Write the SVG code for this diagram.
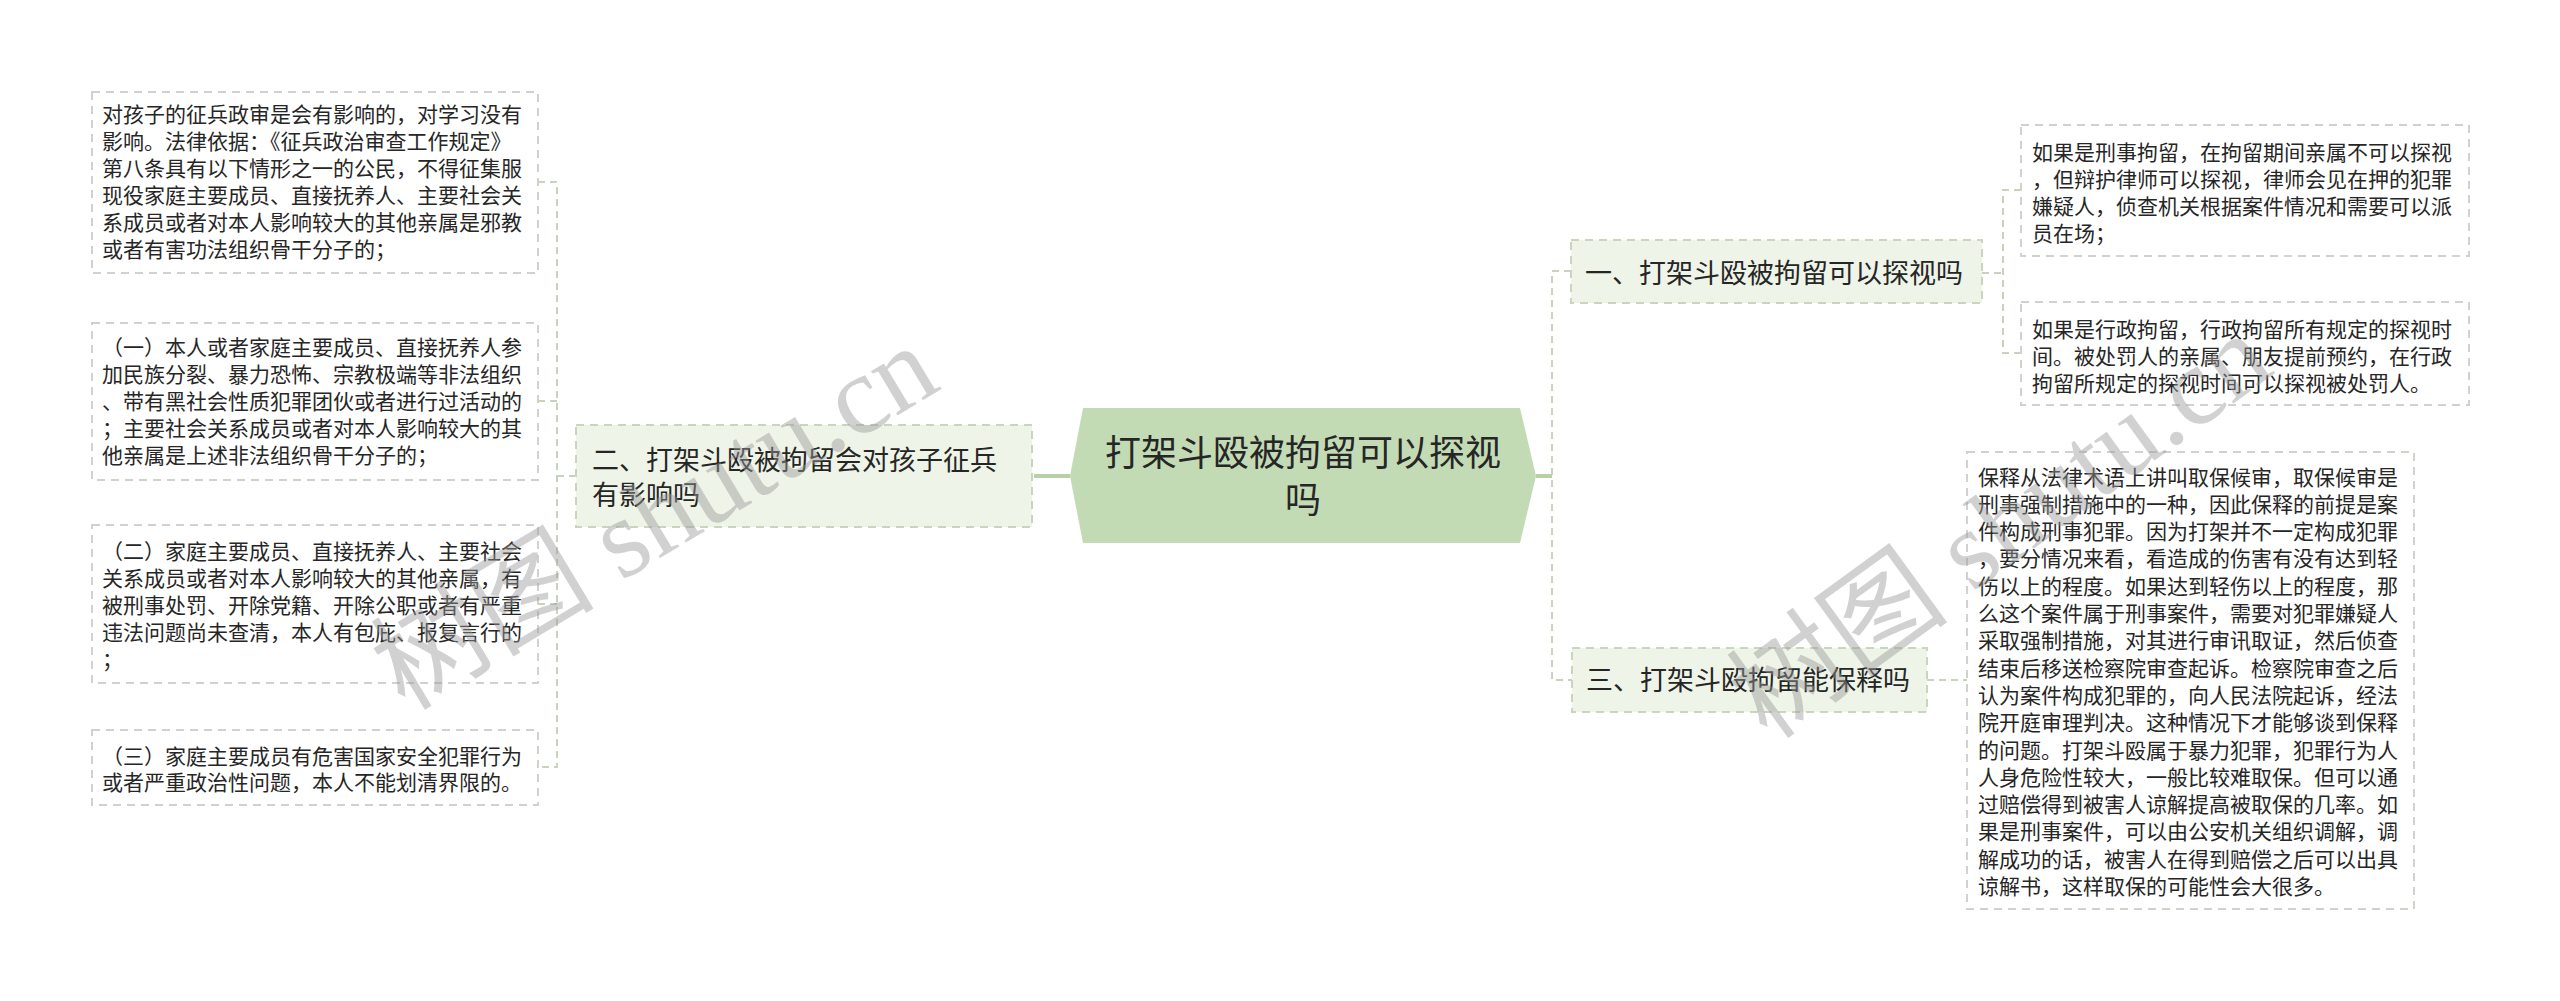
<svg xmlns="http://www.w3.org/2000/svg" width="2560" height="1001" viewBox="0 0 2560 1001">
<style>
.bg{fill:#ffffff}
.leaf rect{fill:#ffffff;stroke:#cfd3cc;stroke-width:2;stroke-dasharray:8 6}
.branch rect{fill:#eef4e7;stroke:#c9d6be;stroke-width:2;stroke-dasharray:8 6}
.leaf text{font-family:"Noto Sans CJK SC","Noto Sans",sans-serif;font-size:21px;fill:#262626}
.branch text{font-family:"Noto Sans CJK SC","Noto Sans",sans-serif;font-size:27px;fill:#262626}
.center text{font-family:"Noto Sans CJK SC","Noto Sans",sans-serif;font-size:36px;fill:#262626;text-anchor:middle}
.dash{fill:none;stroke:#c8d3be;stroke-width:2;stroke-dasharray:7 5}
.solid{fill:none;stroke:#b7d0a7;stroke-width:4}
.wm{font-family:"Liberation Serif","Noto Sans CJK SC",serif;font-size:112px;fill:#9a9a9a;fill-opacity:0.45}
</style>
<rect class="bg" x="0" y="0" width="2560" height="1001"/>

<g id="connectors">
  <path class="solid" d="M1034 476 H1070"/>
  <path class="solid" d="M1536 476 H1552"/>
  <path class="dash" d="M538 182 H557 V767 H538"/>
  <path class="dash" d="M538 401 H557"/>
  <path class="dash" d="M538 604 H557"/>
  <path class="dash" d="M557 476 H576"/>
  <path class="dash" d="M1571 271 H1552 V680 H1572"/>
  <path class="dash" d="M1982 273 H2003"/>
  <path class="dash" d="M2021 190 H2003 V353 H2021"/>
  <path class="dash" d="M1927 680 H1967"/>
</g>

<g id="center" class="center">
  <polygon points="1070,476 1083,408 1520,408 1536,476 1520,543 1083,543" fill="#c3dbb5"/>
  <text x="1303" y="466">打架斗殴被拘留可以探视</text>
  <text x="1303" y="513">吗</text>
</g>

<g id="branch-left" class="branch">
  <rect x="576" y="425" width="456" height="102"/>
  <text x="592" y="470">二、打架斗殴被拘留会对孩子征兵</text>
  <text x="592" y="505">有影响吗</text>
</g>

<g id="branch-1" class="branch">
  <rect x="1571" y="240" width="411" height="63"/>
  <text x="1585" y="283">一、打架斗殴被拘留可以探视吗</text>
</g>

<g id="branch-3" class="branch">
  <rect x="1572" y="648" width="355" height="64"/>
  <text x="1586" y="690">三、打架斗殴拘留能保释吗</text>
</g>

<g id="leaf-l1" class="leaf">
  <rect x="92" y="92" width="446" height="181"/>
  <text x="102" y="122">对孩子的征兵政审是会有影响的，对学习没有</text>
  <text x="102" y="149">影响。法律依据：《征兵政治审查工作规定》</text>
  <text x="102" y="176">第八条具有以下情形之一的公民，不得征集服</text>
  <text x="102" y="203">现役家庭主要成员、直接抚养人、主要社会关</text>
  <text x="102" y="230">系成员或者对本人影响较大的其他亲属是邪教</text>
  <text x="102" y="257">或者有害功法组织骨干分子的；</text>
</g>

<g id="leaf-l2" class="leaf">
  <rect x="92" y="323" width="446" height="157"/>
  <text x="102" y="355">（一）本人或者家庭主要成员、直接抚养人参</text>
  <text x="102" y="382">加民族分裂、暴力恐怖、宗教极端等非法组织</text>
  <text x="102" y="409">、带有黑社会性质犯罪团伙或者进行过活动的</text>
  <text x="102" y="436">；主要社会关系成员或者对本人影响较大的其</text>
  <text x="102" y="463">他亲属是上述非法组织骨干分子的；</text>
</g>

<g id="leaf-l3" class="leaf">
  <rect x="92" y="525" width="446" height="158"/>
  <text x="102" y="559">（二）家庭主要成员、直接抚养人、主要社会</text>
  <text x="102" y="586">关系成员或者对本人影响较大的其他亲属，有</text>
  <text x="102" y="613">被刑事处罚、开除党籍、开除公职或者有严重</text>
  <text x="102" y="640">违法问题尚未查清，本人有包庇、报复言行的</text>
  <text x="102" y="667">；</text>
</g>

<g id="leaf-l4" class="leaf">
  <rect x="92" y="730" width="446" height="75"/>
  <text x="102" y="764">（三）家庭主要成员有危害国家安全犯罪行为</text>
  <text x="102" y="790">或者严重政治性问题，本人不能划清界限的。</text>
</g>

<g id="leaf-r1a" class="leaf">
  <rect x="2021" y="125" width="448" height="131"/>
  <text x="2032" y="160">如果是刑事拘留，在拘留期间亲属不可以探视</text>
  <text x="2032" y="187">，但辩护律师可以探视，律师会见在押的犯罪</text>
  <text x="2032" y="214">嫌疑人，侦查机关根据案件情况和需要可以派</text>
  <text x="2032" y="241">员在场；</text>
</g>

<g id="leaf-r1b" class="leaf">
  <rect x="2021" y="302" width="448" height="103"/>
  <text x="2032" y="337">如果是行政拘留，行政拘留所有规定的探视时</text>
  <text x="2032" y="364">间。被处罚人的亲属、朋友提前预约，在行政</text>
  <text x="2032" y="391">拘留所规定的探视时间可以探视被处罚人。</text>
</g>

<g id="leaf-r3" class="leaf">
  <rect x="1967" y="452" width="447" height="457"/>
  <text x="1978" y="484.5">保释从法律术语上讲叫取保候审，取保候审是</text>
  <text x="1978" y="511.8">刑事强制措施中的一种，因此保释的前提是案</text>
  <text x="1978" y="539.1">件构成刑事犯罪。因为打架并不一定构成犯罪</text>
  <text x="1978" y="566.4">，要分情况来看，看造成的伤害有没有达到轻</text>
  <text x="1978" y="593.7">伤以上的程度。如果达到轻伤以上的程度，那</text>
  <text x="1978" y="621">么这个案件属于刑事案件，需要对犯罪嫌疑人</text>
  <text x="1978" y="648.3">采取强制措施，对其进行审讯取证，然后侦查</text>
  <text x="1978" y="675.6">结束后移送检察院审查起诉。检察院审查之后</text>
  <text x="1978" y="702.9">认为案件构成犯罪的，向人民法院起诉，经法</text>
  <text x="1978" y="730.2">院开庭审理判决。这种情况下才能够谈到保释</text>
  <text x="1978" y="757.5">的问题。打架斗殴属于暴力犯罪，犯罪行为人</text>
  <text x="1978" y="784.8">人身危险性较大，一般比较难取保。但可以通</text>
  <text x="1978" y="812.1">过赔偿得到被害人谅解提高被取保的几率。如</text>
  <text x="1978" y="839.4">果是刑事案件，可以由公安机关组织调解，调</text>
  <text x="1978" y="866.7">解成功的话，被害人在得到赔偿之后可以出具</text>
  <text x="1978" y="894">谅解书，这样取保的可能性会大很多。</text>
</g>

<g id="watermarks">
  <text class="wm" x="655" y="555" text-anchor="middle" transform="rotate(-31 655 518)">树图 shutu.cn</text>
  <text class="wm" x="2000" y="564" text-anchor="middle" transform="rotate(-36 2000 526)">树图 shutu.cn</text>
</g>
</svg>
